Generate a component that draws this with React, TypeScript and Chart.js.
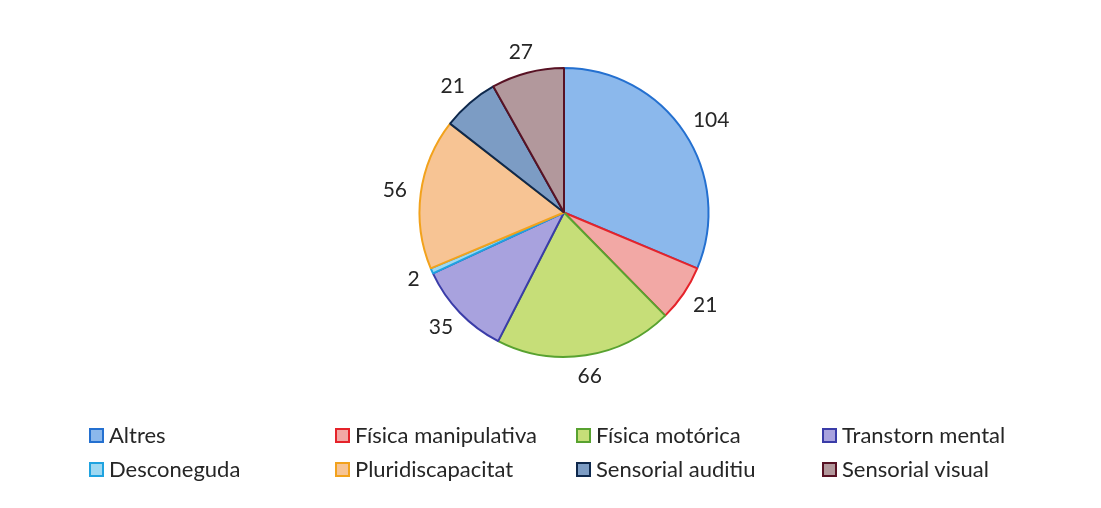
import React, { useEffect, useRef } from "react";
import { Chart, registerables } from "chart.js";

Chart.register(...registerables);

const categories = [
  "Altres",
  "Física manipulativa",
  "Física motórica",
  "Transtorn mental",
  "Desconeguda",
  "Pluridiscapacitat",
  "Sensorial auditiu",
  "Sensorial visual",
];
const values = [104, 21, 66, 35, 2, 56, 21, 27];
const fillColors = [
  "#8BB8EC",
  "#F2A8A5",
  "#C6DE78",
  "#A8A2DE",
  "#9ED8F2",
  "#F7C494",
  "#7C9CC4",
  "#B2989C",
];
const borderColors = [
  "#2470D0",
  "#E5232A",
  "#58A230",
  "#3A3CA8",
  "#1FA3E0",
  "#F2A21C",
  "#0E284C",
  "#581224",
];
// legend grid order: row 1 then row 2
const legendOrder = [0, 1, 2, 3, 4, 5, 6, 7];

const FONT = "Lato, 'Open Sans', sans-serif";

const labelPlugin = {
  id: "outsideLabels",
  afterDatasetsDraw(chart: any) {
    const ctx = chart.ctx;
    const meta = chart.getDatasetMeta(0);
    ctx.save();
    ctx.font = `21px ${FONT}`;
    ctx.fillStyle = "#262626";
    ctx.textAlign = "center";
    ctx.textBaseline = "middle";
    meta.data.forEach((arc: any, i: number) => {
      const p = arc.getProps(["x", "y", "startAngle", "endAngle", "outerRadius"], true);
      const mid = (p.startAngle + p.endAngle) / 2;
      const dx = Math.cos(mid);
      const dy = Math.sin(mid);
      const text = String(chart.data.datasets[0].data[i]);
      const w = ctx.measureText(text).width;
      const h = 15;
      const r = p.outerRadius + 14;
      const x = p.x + dx * r + (dx * w) / 2;
      const y = p.y + dy * r + (dy * h) / 2;
      ctx.fillText(text, x, y);
    });
    ctx.restore();
  },
};

const colLeft = [89, 335, 576, 822];
const rowTop = [423, 457];

export default function App() {
  const ref = useRef<HTMLCanvasElement | null>(null);
  useEffect(() => {
    if (!ref.current) return;
    const chart = new Chart(ref.current, {
      type: "pie",
      data: {
        labels: categories,
        datasets: [
          {
            data: values,
            backgroundColor: fillColors,
            borderColor: borderColors,
            borderWidth: 2,
          },
        ],
      },
      options: {
        responsive: false,
        animation: false,
        layout: { padding: { top: 67, bottom: 150, left: 27, right: 0 } },
        plugins: {
          legend: { display: false },
          tooltip: { enabled: false },
        },
      },
      plugins: [labelPlugin],
    });
    return () => chart.destroy();
  }, []);

  return (
    <div
      style={{
        position: "absolute",
        left: 0,
        top: 0,
        width: 1101,
        height: 508,
        background: "#fff",
        overflow: "hidden",
      }}
    >
      <canvas ref={ref} width={1101} height={508} style={{ position: "absolute", left: 0, top: 0 }} />
      {legendOrder.map((idx, k) => {
        const col = k % 4;
        const row = Math.floor(k / 4);
        return (
          <div
            key={idx}
            style={{
              position: "absolute",
              left: colLeft[col],
              top: rowTop[row],
              height: 24,
              display: "flex",
              alignItems: "center",
              fontFamily: FONT,
              fontSize: 22,
              color: "#262626",
              whiteSpace: "nowrap",
              lineHeight: "24px",
            }}
          >
            <span
              style={{
                display: "inline-block",
                width: 11,
                height: 11,
                background: fillColors[idx],
                border: `2px solid ${borderColors[idx]}`,
                marginRight: 5,
              }}
            />
            <span>{categories[idx]}</span>
          </div>
        );
      })}
    </div>
  );
}
